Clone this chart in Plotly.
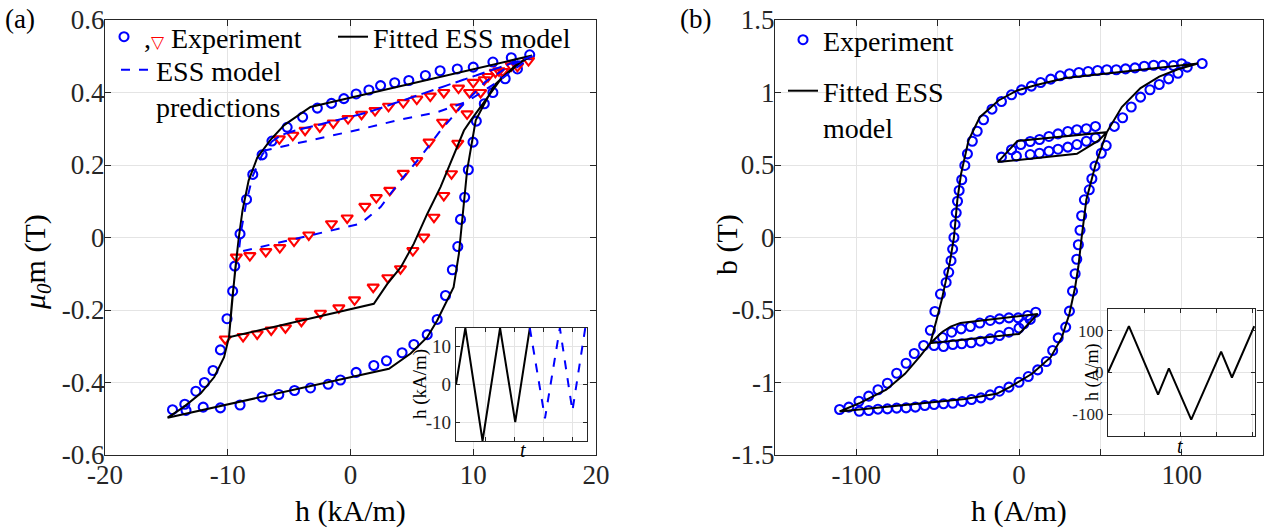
import plotly.graph_objects as go

FONT = "Liberation Serif"
INK = "#262626"
GRID = "#e4e4e4"
BLUE = "#0000ff"
RED = "#ff0000"

# ---------------- panel (a) data : h in kA/m, mu0*m in T ----------------
# experiment, major loop (blue circles)
a_exp_h = [14.6, 13.1, 11.6, 10.0, 8.7, 7.3, 6.1, 4.75, 3.6, 2.45, 1.5, 0.46, -0.54, -1.55, -2.7,
           -3.9, -5.16, -6.4, -7.2, -7.96, -8.47, -9.0, -9.43, -9.6, -10.06, -10.6, -11.2, -11.9,
           -12.6, -13.5, -14.5,
           -13.4, -12.0, -10.6, -9.0, -7.2, -5.84, -4.56, -3.26, -1.82, -0.82, 0.46, 1.9, 2.93,
           4.2, 5.16, 6.25, 7.06, 7.74, 8.3, 8.74, 8.96, 9.3, 9.6, 9.98, 10.25, 10.9, 11.6, 12.6, 13.6]
a_exp_m = [0.504, 0.496, 0.484, 0.47, 0.465, 0.46, 0.447, 0.433, 0.427, 0.419, 0.407, 0.396, 0.383,
           0.37, 0.357, 0.332, 0.304, 0.266, 0.228, 0.174, 0.105, 0.01, -0.079, -0.148, -0.224,
           -0.31, -0.367, -0.40, -0.424, -0.46, -0.475,
           -0.477, -0.468, -0.47, -0.462, -0.44, -0.433, -0.422, -0.415, -0.405, -0.393, -0.372,
           -0.353, -0.34, -0.318, -0.295, -0.268, -0.226, -0.16, -0.089, -0.025, 0.05, 0.111,
           0.187, 0.263, 0.321, 0.369, 0.40, 0.438, 0.465]

# experiment, minor loop and prediction part (red triangles)
a_tri_h = [-10.2, -8.75, -7.6, -6.46, -5.3, -4.0, -2.45, -0.95, 0.33, 1.85, 3.04, 4.07, 5.08, 5.97,
           6.8, 7.6, 8.23, 8.74, 9.5, 10.6, 11.8, 13.1, 14.5,
           13.6, 12.4, 11.2, 10.0, 8.8, 7.6, 6.5, 5.4, 4.3, 3.1, 2.0, 0.9, -0.2, -1.4, -2.5, -3.7,
           -4.7, -5.8,
           -9.3, -8.2, -6.9, -5.76, -4.6, -3.4, -1.55, -0.27, 1.17, 2.1, 3.2, 4.3, 5.4, 6.4, 7.5,
           8.6, 9.7, 10.9, 12.1]
a_tri_m = [-0.28, -0.273, -0.266, -0.255, -0.249, -0.231, -0.209, -0.194, -0.172, -0.137, -0.111,
           -0.086, -0.036, 0.001, 0.056, 0.116, 0.176, 0.26, 0.341, 0.40, 0.456, 0.474, 0.488,
           0.472, 0.458, 0.444, 0.428, 0.412, 0.40, 0.39, 0.382, 0.372, 0.362, 0.35, 0.34, 0.328,
           0.316, 0.305, 0.296, 0.282, 0.272,
           -0.054, -0.05, -0.039, -0.028, -0.01, 0.007, 0.038, 0.054, 0.086, 0.11, 0.13, 0.177,
           0.212, 0.263, 0.318, 0.36, 0.40, 0.435, 0.46]

# fitted ESS model (black)
a_fit_h = [14.8, -3.26, -5.4, -6.5, -7.6, -8.3, -8.8, -9.1, -9.4, -9.65, -9.9, -10.3, -11.1, -12.2,
           -13.6, -14.9, 3.13, 4.9, 6.25, 7.06, 7.6, 8.4, 8.83, 9.1, 9.5, 10.2, 11.7, 13.6, 14.8,
           -3.26, -5.4, -6.5, -7.6, -8.3, -8.8, -9.1, -9.4, -9.65, -9.9, 1.9, 3.0, 4.1, 5.16,
           6.25, 7.33, 8.42, 9.24, 9.8, 10.8, 12.2, 13.8, 14.8]
a_fit_m = [0.502, 0.36, 0.31, 0.27, 0.22, 0.157, 0.074, 0.0, -0.09, -0.174, -0.275, -0.33, -0.385,
           -0.43, -0.468, -0.497, -0.362, -0.32, -0.275, -0.229, -0.19, -0.137, -0.045, 0.047,
           0.185, 0.323, 0.42, 0.48, 0.502, 0.36, 0.31, 0.27, 0.22, 0.157, 0.074, 0.0, -0.09,
           -0.174, -0.275, -0.183, -0.128, -0.082, -0.017, 0.065, 0.139, 0.231, 0.295, 0.323,
           0.37, 0.435, 0.482, 0.502]

# ESS model predictions (blue dashed)
a_pred_h = [14.8, 1.4, -2.7, -4.5, -5.6, -6.4, -7.2, -7.96, -8.47, -8.9, -9.1, 0.8, 2.45, 4.07,
            5.7, 7.33, 9.0, 11.0, 13.0, 14.8, 1.4, -2.7, -4.5, -5.6, -6.4, -7.0, -3.0, 1.0, 4.0,
            7.0, 9.5, 12.0, 14.8]
a_pred_m = [0.50, 0.345, 0.31, 0.295, 0.283, 0.265, 0.228, 0.17, 0.10, 0.02, -0.04, 0.038, 0.084,
            0.157, 0.222, 0.295, 0.36, 0.43, 0.475, 0.50, 0.345, 0.31, 0.295, 0.283, 0.265, 0.24,
            0.27, 0.30, 0.325, 0.345, 0.375, 0.43, 0.50]

# inset (a): excitation waveform
a_in_t_fit = [0.0, 0.32, 0.91, 1.51, 2.03, 2.53]
a_in_h_fit = [0, 15, -15, 15, -10, 15]
a_in_t_pred = [2.53, 3.05, 3.56, 3.99, 4.43]
a_in_h_pred = [15, -9, 15, -7, 15]

# ---------------- panel (b) data : h in A/m, b in T ----------------
b_exp_h = [112.6, 100, 94.9, 88.5, 82.8, 77, 71.3, 65.5, 59.8, 54, 48.3, 42.5, 36.8, 31, 25.3, 19.5,
           13.3, 7.6, 1.6, -4.6, -10.8, -16.6, -21.8, -25.7, -28.7, -31.7, -33.3, -35.2, -36.8,
           -37.8, -38.6, -39.3, -40.0, -40.8, -41.8, -43.2, -44.8, -48.3, -51.7, -54.5,
           -52.2, -46.4, -40.7, -35.2, -29.4, -23.7, -17.7, -12, -6.2, 0, 3, 6.9, 10.3,
           5.3, -0.5, -6.2, -12, -17.7, -24.1, -29.9, -35.6, -41.4, -47,
           -58.6, -64.4, -69.4, -75.2, -80.9, -86.7, -92.4, -98.4, -104.6, -110.3,
           -98.2, -92.4, -86.7, -80.9, -75.2, -69.4, -63.7, -57.9, -52.2, -46.4, -40.7, -34.9,
           -29.2, -23.4, -17.7, -12, -6.2, 0, 5.7, 11.5, 16.8, 20.7, 24.1, 28.7, 31, 32.9,
           34.5, 35.5, 36.5, 37.5, 38.5, 40.2, 43.2, 44.8, 46.7, 50.6, 53.6,
           47, 41.4, 35.6, 30, 24, 18.4, 12.6, 6.9, 1.1, -4.6, -10.8,
           -1.6, 6.9, 12.6, 18.4, 24, 30, 35.6, 41.4, 47,
           58.6, 63.7, 69, 74.7, 80.5, 86.2, 92, 97.7, 103.4]
b_exp_b = [1.20, 1.198, 1.186, 1.188, 1.188, 1.181, 1.17, 1.163, 1.157, 1.157, 1.152, 1.145, 1.138,
           1.129, 1.115, 1.092, 1.069, 1.044, 1.018, 0.984, 0.938, 0.885, 0.812, 0.733, 0.664,
           0.577, 0.497, 0.398, 0.324,
           0.25, 0.17, 0.09, 0.0, -0.08, -0.16, -0.24, -0.31, -0.39, -0.51, -0.64,
           -0.745, -0.752, -0.738, -0.733, -0.726, -0.715, -0.699, -0.676, -0.653, -0.625, -0.595,
           -0.565, -0.515,
           -0.538, -0.554, -0.554, -0.561, -0.572, -0.59, -0.614, -0.63, -0.653, -0.69,
           -0.745, -0.80, -0.867, -0.936, -1.005, -1.05, -1.094, -1.129, -1.17, -1.186,
           -1.198, -1.193, -1.184, -1.182, -1.177, -1.175, -1.17, -1.159, -1.152, -1.147, -1.143,
           -1.131, -1.117, -1.106, -1.085, -1.06, -1.032, -0.998, -0.959, -0.913, -0.855, -0.779,
           -0.692, -0.618, -0.508, -0.37,
           -0.25, -0.15, -0.05, 0.05, 0.15, 0.26, 0.329, 0.405, 0.492, 0.581, 0.634,
           0.766, 0.75, 0.743, 0.731, 0.715, 0.697, 0.676, 0.662, 0.641, 0.605, 0.554,
           0.561, 0.572, 0.581, 0.595, 0.609, 0.623, 0.641, 0.664, 0.687,
           0.766, 0.826, 0.90, 0.968, 1.019, 1.055, 1.094, 1.133, 1.175]

b_fit_h = [110, 28.7, 10, -1.1, -12.6, -24.1, -31, -35.6, -37.9, -40, -42.5, -44.8, -47.5, -50.5,
           -54.5, 0, 11.5, -36, -42, -47, -54.5, -60.9, -70.1, -81.6, -97.7, -110.3, -33.3, -13.8,
           -5.7, 8, 19.5, 26.4, 31, 34.5, 36.5, 38.5, 41.4, 47, 54, -1, -13, 35.6, 49, 54, 63.2,
           74.7, 86.2, 97.7, 110]
b_fit_b = [1.20, 1.10, 1.05, 1.014, 0.945, 0.83, 0.67, 0.44, 0.26, 0.0, -0.17, -0.30, -0.43, -0.56,
           -0.729, -0.665, -0.527, -0.589, -0.615, -0.65, -0.729, -0.82, -0.94, -1.05, -1.14, -1.20,
           -1.113, -1.078, -1.032, -0.94, -0.825, -0.687, -0.526, -0.343, -0.2, 0.0, 0.26, 0.50,
           0.726, 0.665, 0.52, 0.577, 0.67, 0.726, 0.90, 1.03, 1.11, 1.16, 1.20]

# inset (b): excitation waveform
b_in_t = [0.0, 0.58, 1.39, 1.69, 2.31, 3.14, 3.44, 4.06]
b_in_h = [0, 111, -53, 10, -113, 50, -12, 111]

# tick labels
a_x_ticks = [-20, -10, 0, 10, 20]
a_x_text = ["-20", "-10", "0", "10", "20"]
a_y_ticks = [-0.6, -0.4, -0.2, 0, 0.2, 0.4, 0.6]
a_y_text = ["-0.6", "-0.4", "-0.2", "0", "0.2", "0.4", "0.6"]
b_x_ticks = [-150, -100, -50, 0, 50, 100, 150]
b_x_text = [" ", "-100", " ", "0", " ", "100", " "]
b_y_ticks = [-1.5, -1, -0.5, 0, 0.5, 1, 1.5]
b_y_text = ["-1.5", "-1", "-0.5", "0", "0.5", "1", "1.5"]
a_in_y_ticks = [-10, 0, 10]
a_in_y_text = ["-10", "0", "10"]
b_in_y_ticks = [-100, 0, 100]
b_in_y_text = ["-100", "0", "100"]
in_t_ticks = [1, 2, 3, 4]

# ---------------- figure ----------------
fig = go.Figure()

circ = dict(symbol="circle-open", size=9, color=BLUE, line=dict(width=2.1, color=BLUE))
tri = dict(symbol="triangle-down-open", size=10, color=RED, line=dict(width=2.1, color=RED))

# panel (a)
fig.add_trace(go.Scatter(x=a_exp_h, y=a_exp_m, mode="markers", marker=circ,
                         name=",<span style='color:#ff0000;font-size:17px'>▽</span> Experiment",
                         legend="legend", xaxis="x", yaxis="y"))
fig.add_trace(go.Scatter(x=a_tri_h, y=a_tri_m, mode="markers", marker=tri, showlegend=False,
                         xaxis="x", yaxis="y"))
fig.add_trace(go.Scatter(x=a_fit_h, y=a_fit_m, mode="lines", line=dict(color="black", width=2),
                         name="Fitted ESS model", legend="legend2", xaxis="x", yaxis="y"))
fig.add_trace(go.Scatter(x=a_pred_h, y=a_pred_m, mode="lines",
                         line=dict(color=BLUE, width=2, dash="dash"),
                         name="ESS model<br>predictions", legend="legend5", xaxis="x", yaxis="y"))

# panel (b)
fig.add_trace(go.Scatter(x=b_exp_h, y=b_exp_b, mode="markers", marker=circ, name="Experiment",
                         legend="legend3", xaxis="x2", yaxis="y2"))
fig.add_trace(go.Scatter(x=b_fit_h, y=b_fit_b, mode="lines", line=dict(color="black", width=2),
                         name="Fitted ESS<br>model", legend="legend4", xaxis="x2", yaxis="y2"))

# insets
fig.add_trace(go.Scatter(x=a_in_t_fit, y=a_in_h_fit, mode="lines",
                         line=dict(color="black", width=2), showlegend=False,
                         xaxis="x3", yaxis="y3"))
fig.add_trace(go.Scatter(x=a_in_t_pred, y=a_in_h_pred, mode="lines",
                         line=dict(color=BLUE, width=2, dash="dash"), showlegend=False,
                         xaxis="x3", yaxis="y3"))
fig.add_trace(go.Scatter(x=b_in_t, y=b_in_h, mode="lines", line=dict(color="black", width=2),
                         showlegend=False, xaxis="x4", yaxis="y4"))

W, H = 1273, 529


def px_x(p):
    return p / W


def px_y(p):
    return 1 - p / H


def axis(domain, rng, tickvals, ticktext, anchor, tsize=27, ticklen=6, showlabels=True,
         standoff=0):
    return dict(domain=domain, range=rng, tickvals=tickvals, ticktext=ticktext,
                ticks="inside", ticklen=ticklen, tickwidth=1, tickcolor=INK,
                showline=True, linecolor=INK, linewidth=1.2, mirror="ticks",
                showgrid=True, gridcolor=GRID, gridwidth=1, zeroline=False,
                anchor=anchor, showticklabels=showlabels, automargin=False,
                ticklabelstandoff=standoff,
                tickfont=dict(family=FONT, size=tsize, color=INK))


fig.update_layout(
    width=W, height=H, margin=dict(l=0, r=0, t=0, b=0, autoexpand=False),
    paper_bgcolor="white", plot_bgcolor="white",
    font=dict(family=FONT, color=INK),
    xaxis=axis([px_x(105), px_x(596)], [-20, 20], a_x_ticks, a_x_text, "y", standoff=-5),
    yaxis=axis([px_y(455), px_y(20)], [-0.6, 0.6], a_y_ticks, a_y_text, "x", standoff=-6),
    xaxis2=axis([px_x(775), px_x(1263)], [-150, 150], b_x_ticks, b_x_text, "y2", standoff=-5),
    yaxis2=axis([px_y(455), px_y(20)], [-1.5, 1.5], b_y_ticks, b_y_text, "x2", standoff=-6),
    xaxis3=axis([px_x(456), px_x(587)], [0, 4.49], in_t_ticks, None, "y3",
                ticklen=4, showlabels=False),
    yaxis3=axis([px_y(441), px_y(328)], [-15, 15], a_in_y_ticks, a_in_y_text, "x3",
                tsize=19, ticklen=4),
    xaxis4=axis([px_x(1108), px_x(1255)], [0, 4.08], in_t_ticks, None, "y4",
                ticklen=4, showlabels=False),
    yaxis4=axis([px_y(436), px_y(309)], [-152, 152], b_in_y_ticks, b_in_y_text, "x4",
                tsize=17, ticklen=4),
)

leg_common = dict(bgcolor="rgba(0,0,0,0)", borderwidth=0, xanchor="left", yanchor="top",
                  font=dict(family=FONT, size=28, color="black"), itemwidth=30,
                  valign="top", tracegroupgap=0)
fig.update_layout(
    legend=dict(x=px_x(104), y=px_y(12), **leg_common),
    legend2=dict(x=px_x(333), y=px_y(12), **leg_common),
    legend5=dict(x=px_x(116), y=px_y(45), **leg_common),
    legend3=dict(x=px_x(783), y=px_y(15), **leg_common),
    legend4=dict(x=px_x(783), y=px_y(66), **leg_common),
)

# opaque backgrounds for the insets
fig.add_shape(type="rect", xref="x3", yref="y3", x0=0, x1=4.49, y0=-15, y1=15,
              fillcolor="white", line=dict(width=0), layer="below")
fig.add_shape(type="rect", xref="x4", yref="y4", x0=0, x1=4.08, y0=-152, y1=152,
              fillcolor="white", line=dict(width=0), layer="below")


def label(text, x, y, size, angle=0):
    fig.add_annotation(text=text, x=px_x(x), y=px_y(y), xref="paper", yref="paper",
                       xanchor="center", yanchor="middle", showarrow=False, textangle=angle,
                       font=dict(family=FONT, size=size, color="black"))


# axis titles
label("h (kA/m)", 350, 511, 30)
label("h (A/m)", 1019, 511, 30)
label("<i>μ</i><sub><i>0</i></sub>m (T)", 37, 262, 30, -90)
label("b (T)", 727, 245, 30, -90)
label("h (kA/m)", 420, 384, 19, -90)
label("<i>t</i>", 523, 450, 20)
label("h (A/m)", 1092, 372, 18, -90)
label("<i>t</i>", 1180, 446, 20)

# panel letters
fig.add_annotation(text="(a)", x=px_x(3), y=px_y(2), xref="paper", yref="paper",
                   xanchor="left", yanchor="top", showarrow=False,
                   font=dict(family=FONT, size=27, color="black"))
fig.add_annotation(text="(b)", x=px_x(678), y=px_y(2), xref="paper", yref="paper",
                   xanchor="left", yanchor="top", showarrow=False,
                   font=dict(family=FONT, size=27, color="black"))

fig.write_html("out.html", config={"displayModeBar": False},
               post_script="document.body.style.margin='0px';")
